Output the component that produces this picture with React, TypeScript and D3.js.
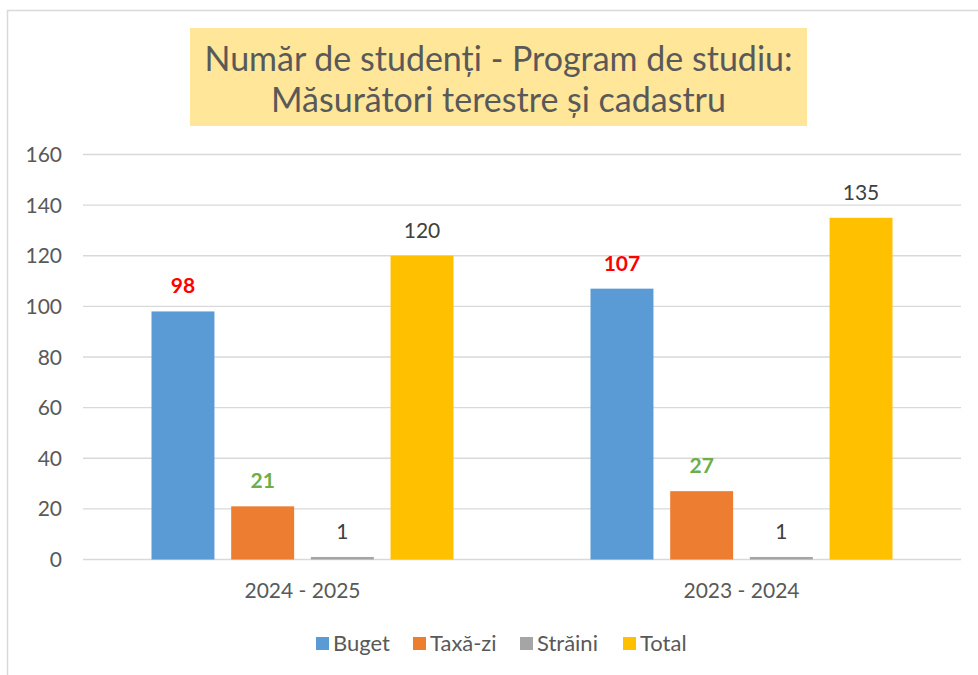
import React from "react";
import * as d3 from "d3";

const categories = ["2024 - 2025", "2023 - 2024"];
const seriesNames = ["Buget", "Taxă-zi", "Străini", "Total"];
const buget = [98, 107];
const taxaZi = [21, 27];
const straini = [1, 1];
const total = [120, 135];
const yTicks = [0, 20, 40, 60, 80, 100, 120, 140, 160];
const titleLines = ["Număr de studenți - Program de studiu:", "Măsurători terestre și cadastru"];

const seriesValues = [buget, taxaZi, straini, total];
const barColors = ["#5B9BD5", "#ED7D31", "#A5A5A5", "#FFC000"];
const labelColors = ["#FF0000", "#70AD47", "#404040", "#404040"];
const labelBold = [true, true, false, false];

const W = 978;
const H = 675;
const FONT = "Lato, 'Open Sans', sans-serif";

export default function App() {
  const left = 83;
  const right = 961;
  const yTop = 154.5;
  const yBottom = 559.5;

  const x0 = d3.scaleBand<string>().domain(categories).range([left, right]).padding(0);
  const groupW = 302;
  const inset = (x0.bandwidth() - groupW) / 2;
  const x1 = d3
    .scaleBand<string>()
    .domain(seriesNames)
    .range([inset, inset + groupW])
    .paddingInner(0.21)
    .paddingOuter(0);
  const y = d3.scaleLinear().domain([0, 160]).range([yBottom, yTop]);

  const legendX = [316, 413, 520, 623];

  return (
    <svg
      width={W}
      height={H}
      style={{ position: "absolute", left: 0, top: 0, display: "block" }}
      fontFamily={FONT}
    >
      <rect x={0} y={0} width={W} height={H} fill="#ffffff" />
      {/* chart border */}
      <path d={`M7.5,${H} L7.5,10.5 L${W},10.5`} fill="none" stroke="#D9D9D9" strokeWidth={1.5} />

      {/* title */}
      <rect x={190} y={28} width={617} height={98} fill="#FFE699" />
      {titleLines.map((t, i) => (
        <text
          key={i}
          x={498.5}
          y={71 + i * 41}
          textAnchor="middle"
          fontSize={34}
          fill="#595959"
        >
          {t}
        </text>
      ))}

      {/* gridlines and y ticks */}
      {yTicks.map((t) => (
        <g key={t}>
          <line x1={left} x2={right} y1={y(t)} y2={y(t)} stroke="#D9D9D9" strokeWidth={1.3} />
          <text x={62} y={y(t) + 7.5} textAnchor="end" fontSize={21} fill="#595959">
            {t}
          </text>
        </g>
      ))}

      {/* bars */}
      {categories.map((c, ci) => (
        <g key={c} transform={`translate(${x0(c)},0)`}>
          {seriesNames.map((s, si) => {
            const v = seriesValues[si][ci];
            const bx = x1(s)!;
            const bw = x1.bandwidth();
            return (
              <g key={s}>
                <rect x={bx} y={y(v)} width={bw} height={y(0) - y(v)} fill={barColors[si]} />
                <text
                  x={bx + bw / 2}
                  y={y(v) - 18}
                  textAnchor="middle"
                  fontSize={21}
                  fontWeight={labelBold[si] ? 700 : 400}
                  fill={labelColors[si]}
                >
                  {v}
                </text>
              </g>
            );
          })}
          <text
            x={x0.bandwidth() / 2}
            y={597.5}
            textAnchor="middle"
            fontSize={21}
            fill="#595959"
          >
            {c}
          </text>
        </g>
      ))}

      {/* legend */}
      {seriesNames.map((s, i) => (
        <g key={s}>
          <rect x={legendX[i]} y={637} width={13} height={13} fill={barColors[i]} />
          <text x={legendX[i] + 17} y={651} fontSize={22} fill="#595959">
            {s}
          </text>
        </g>
      ))}
    </svg>
  );
}
